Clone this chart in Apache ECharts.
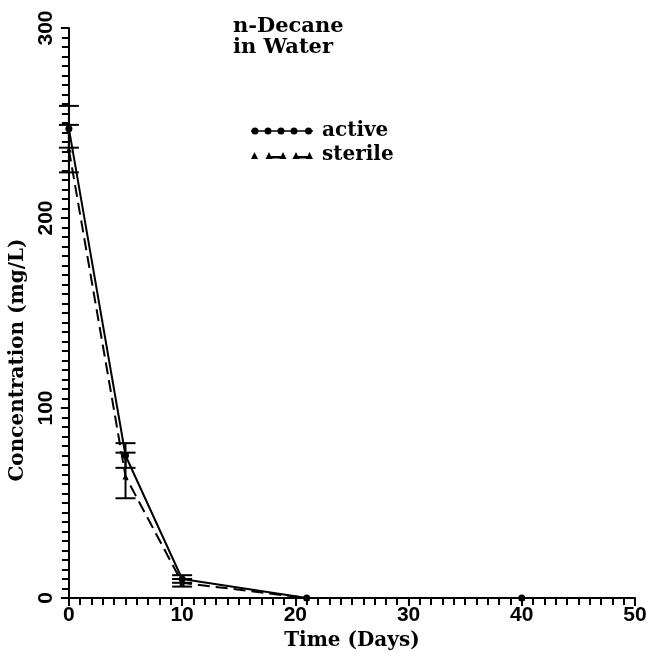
<!DOCTYPE html>
<html>
<head>
<meta charset="utf-8">
<script src="https://cdn.jsdelivr.net/npm/echarts@6/dist/echarts.min.js"></script>
<style>
html,body{margin:0;padding:0;background:#fff;}
#c{width:651px;height:656px;}
</style>
</head>
<body>
<div id="c"></div>
<script>
// Data
const days = [0, 5, 10, 21, 40];
const activeValues = [247, 75, 10, 0, 0];
const sterileValues = [236, 64, 8, 0, 0];
const activeErrLow = [237, 68.5, 8, null, null];
const activeErrHigh = [259, 81.5, 12, null, null];
const sterileErrLow = [224, 52.5, 6, null, null];
const sterileErrHigh = [249, 76.5, 10, null, null];
const xTicks = [0, 10, 20, 30, 40, 50];
const yTicks = [0, 100, 200, 300];

const pts = (xs, ys) => xs.map((x, i) => [x, ys[i]]);
const errs = (xs, lo, hi) => xs.map((x, i) => [x, lo[i], hi[i]]).filter(d => d[1] != null);

function errRender(params, api) {
  const x = api.value(0), lo = api.value(1), hi = api.value(2);
  const pLo = api.coord([x, lo]);
  const pHi = api.coord([x, hi]);
  const w = 10;
  const st = {stroke: '#000', lineWidth: 2};
  return {
    type: 'group',
    children: [
      {type: 'line', shape: {x1: pLo[0], y1: pLo[1], x2: pHi[0], y2: pHi[1]}, style: st},
      {type: 'line', shape: {x1: pLo[0] - w, y1: pLo[1], x2: pLo[0] + w, y2: pLo[1]}, style: st},
      {type: 'line', shape: {x1: pHi[0] - w, y1: pHi[1], x2: pHi[0] + w, y2: pHi[1]}, style: st}
    ]
  };
}

function circ(cx, cy, r) {
  return 'M' + (cx - r) + ' ' + cy + ' A' + r + ' ' + r + ' 0 1 1 ' + (cx + r) + ' ' + cy +
         ' A' + r + ' ' + r + ' 0 1 1 ' + (cx - r) + ' ' + cy + ' Z ';
}
function tri(cx) {
  return 'M' + (cx - 3.5) + ' 8 L' + cx + ' 1 L' + (cx + 3.5) + ' 8 Z ';
}
function bar(x1, x2, y1, y2) {
  return 'M' + x1 + ' ' + y1 + ' L' + x2 + ' ' + y1 + ' L' + x2 + ' ' + y2 + ' L' + x1 + ' ' + y2 + ' Z ';
}
const activeIcon = 'path://' + bar(0, 62, 3.2, 4.8) +
  circ(4, 4, 3.5) + circ(17, 4, 3.5) + circ(30, 4, 3.5) + circ(43, 4, 3.5) + circ(57.5, 4, 3.5);
const sterileIcon = 'path://M0 0 L0.01 0 L0.01 0.01 Z ' + bar(20, 31, 5, 7.5) + bar(47, 58, 5, 7.5) +
  tri(3.5) + tri(18) + tri(32) + tri(45) + tri(58.5);

const serifFamily = 'DejaVu Serif';
const labelFont = {fontFamily: 'Liberation Sans', fontWeight: 'bold', fontSize: 21, color: '#000'};
const serifFont = {fontFamily: serifFamily, fontWeight: 'bold', fontSize: 20, color: '#000'};

const chart = echarts.init(document.getElementById('c'), null, {renderer: 'canvas'});
chart.setOption({
  animation: false,
  backgroundColor: '#fff',
  title: {
    text: 'n-Decane\nin Water',
    left: 228, top: 11,
    textStyle: Object.assign({}, serifFont, {fontSize: 21, lineHeight: 21})
  },
  legend: {
    orient: 'vertical',
    left: 246, top: 116,
    itemWidth: 62, itemHeight: 9, itemGap: 4,
    textStyle: Object.assign({}, serifFont, {fontSize: 20, padding: [0, 0, 0, 4]}),
    data: [
      {name: 'active', icon: activeIcon, itemStyle: {color: '#000'}},
      {name: 'sterile', icon: sterileIcon, itemStyle: {color: '#000'}}
    ]
  },
  grid: {left: 68, right: 16, top: 28, bottom: 58, containLabel: false},
  xAxis: {
    type: 'value', min: 0, max: 50, interval: 10,
    name: 'Time (Days)', nameLocation: 'middle', nameGap: 24,
    nameTextStyle: serifFont,
    axisLine: {lineStyle: {color: '#000', width: 2}},
    axisTick: {show: true, length: 8, lineStyle: {color: '#000', width: 2}},
    minorTick: {show: true, splitNumber: 10, length: 7, lineStyle: {color: '#000', width: 2}},
    axisLabel: Object.assign({margin: 7, formatter: v => xTicks.includes(v) ? String(v) : ''}, labelFont),
    splitLine: {show: false}
  },
  yAxis: {
    type: 'value', min: 0, max: 300, interval: 100,
    name: 'Concentration (mg/L)', nameLocation: 'middle', nameGap: 31,
    nameTextStyle: Object.assign({}, serifFont, {padding: [0, 94, 0, 0]}),
    axisLine: {lineStyle: {color: '#000', width: 2}},
    axisTick: {show: true, length: 8, lineStyle: {color: '#000', width: 2}},
    minorTick: {show: true, splitNumber: 20, length: 7, lineStyle: {color: '#000', width: 2}},
    axisLabel: Object.assign({margin: 12, rotate: 90, formatter: v => yTicks.includes(v) ? String(v) : ''}, labelFont),
    splitLine: {show: false}
  },
  series: [
    {
      name: 'active', type: 'line', data: pts(days, activeValues),
      symbol: 'circle', symbolSize: 7, showSymbol: true,
      itemStyle: {color: '#000'},
      lineStyle: {color: '#000', width: 2}
    },
    {
      name: 'sterile', type: 'line', data: pts(days, sterileValues),
      symbol: 'triangle', symbolSize: 6, showSymbol: true,
      itemStyle: {color: '#000'},
      lineStyle: {color: '#000', width: 2, type: [12, 6]}
    },
    {
      name: 'activeErr', type: 'custom', renderItem: errRender,
      data: errs(days, activeErrLow, activeErrHigh), z: 3
    },
    {
      name: 'sterileErr', type: 'custom', renderItem: errRender,
      data: errs(days, sterileErrLow, sterileErrHigh), z: 3
    }
  ]
});
</script>
</body>
</html>
